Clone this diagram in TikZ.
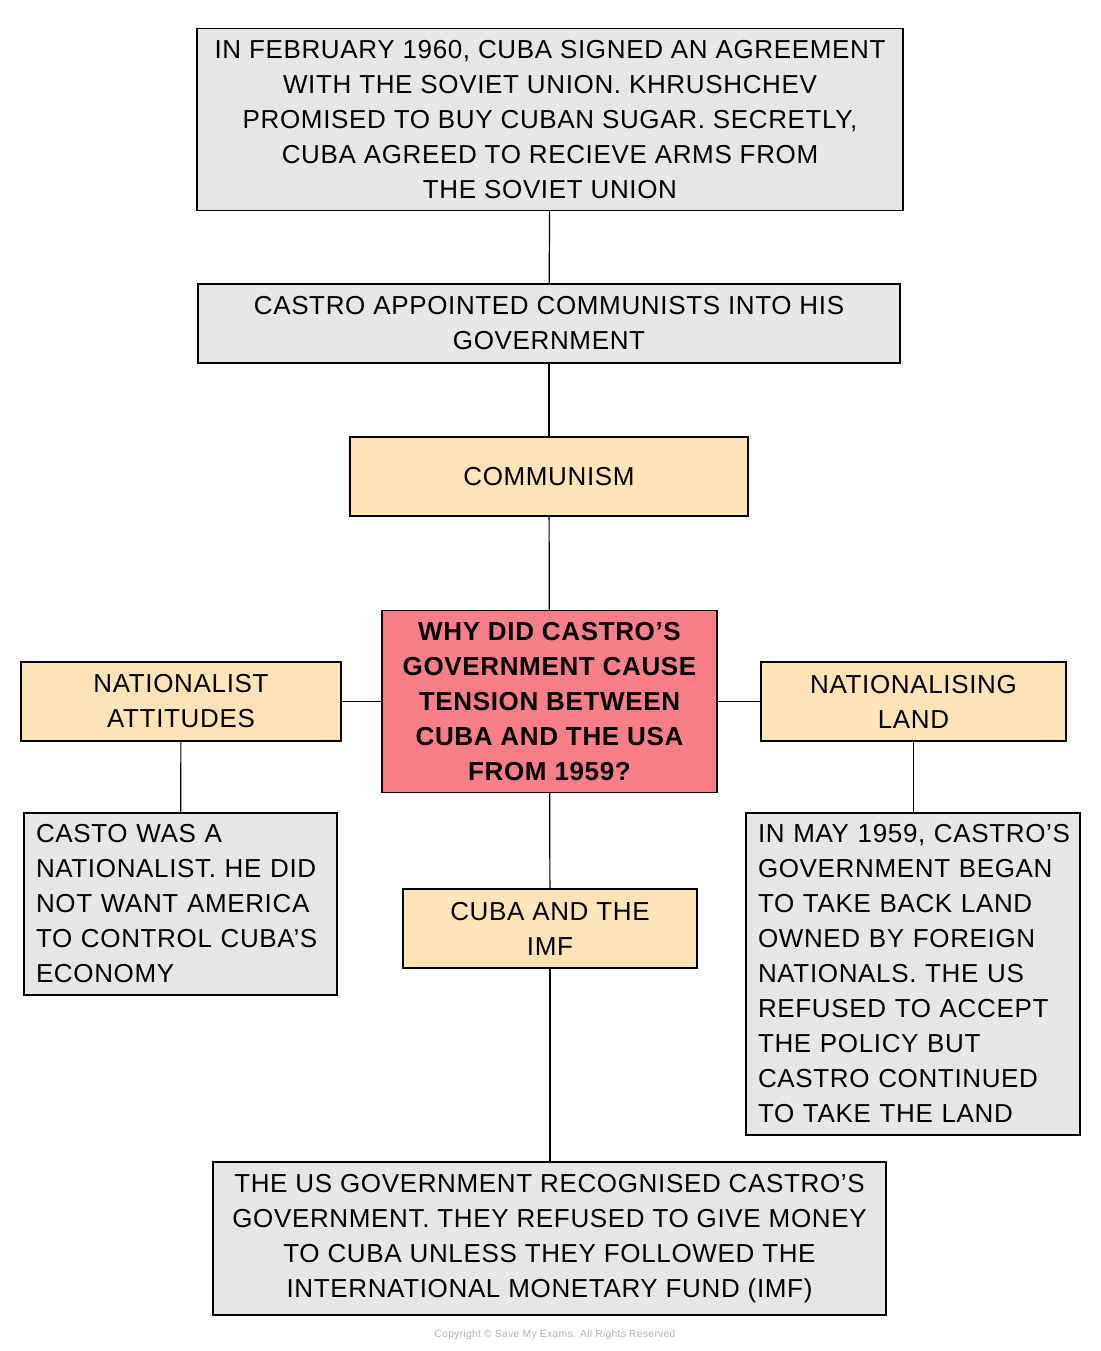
\documentclass[tikz,border=0pt]{standalone}
\usepackage{fontspec}
\setmainfont[LetterSpace=2.5]{Liberation Sans}
\definecolor{boxgrey}{HTML}{E6E6E6}
\definecolor{boxorange}{HTML}{FEE4B6}
\definecolor{boxpink}{HTML}{F87E8A}
\tikzset{
  base/.style={draw=black, line width=0.75pt, inner sep=6pt, outer sep=0pt,
    font=\fontsize{13}{17.5}\selectfont},
  greybox/.style={base, fill=boxgrey, align=center},
  orangebox/.style={base, fill=boxorange, align=center},
  keybox/.style={base, fill=boxpink, align=center,
    font=\fontsize{13}{17.5}\selectfont\bfseries},
  link/.style={line width=0.6pt}
}
\begin{document}
\begin{tikzpicture}[x=0.5pt,y=-0.5pt]
  \useasboundingbox (0,0) rectangle (1100,1351);

  % Soviet agreement
  \node[greybox, minimum width=353pt, minimum height=90.5pt] (soviet) at (550,119.5)
    {IN FEBRUARY 1960, CUBA SIGNED AN AGREEMENT\\
     WITH THE SOVIET UNION. KHRUSHCHEV\\
     PROMISED TO BUY CUBAN SUGAR. SECRETLY,\\
     CUBA AGREED TO RECIEVE ARMS FROM\\
     THE SOVIET UNION};

  % Communists in government
  \node[greybox, minimum width=351pt, minimum height=39.5pt] (appoint) at (549,323.5)
    {CASTRO APPOINTED COMMUNISTS INTO HIS\\ GOVERNMENT};

  % Communism
  \node[orangebox, minimum width=199pt, minimum height=39.5pt] (communism) at (549,476.5)
    {COMMUNISM};

  % Key question
  \node[keybox, minimum width=167.5pt, minimum height=90.5pt] (question) at (549.5,701.5)
    {WHY DID CASTRO'S\\ GOVERNMENT CAUSE\\ TENSION BETWEEN\\ CUBA AND THE USA\\ FROM 1959?};

  % Left branch
  \node[orangebox, minimum width=160pt, minimum height=39.5pt] (nationalist) at (181,701.5)
    {NATIONALIST\\ ATTITUDES};
  \node[base, fill=boxgrey, align=left, text width=144.5pt, minimum height=91pt] (casto) at (180.5,904)
    {CASTO WAS A\\ \mbox{NATIONALIST. HE DID}\\ NOT WANT AMERICA\\ \mbox{TO CONTROL CUBA'S}\\ ECONOMY};

  % Right branch
  \node[orangebox, minimum width=152.5pt, minimum height=39.5pt] (landnode) at (913.5,701.5)
    {NATIONALISING\\ LAND};
  \node[base, fill=boxgrey, align=left, text width=155pt, minimum height=160pt] (maynode) at (913,974)
    {\mbox{IN MAY 1959, CASTRO'S}\\ GOVERNMENT BEGAN\\ TO TAKE BACK LAND\\ OWNED BY FOREIGN\\
     NATIONALS. THE US\\ REFUSED TO ACCEPT\\ THE POLICY BUT\\ CASTRO CONTINUED\\ TO TAKE THE LAND};

  % IMF branch
  \node[orangebox, minimum width=147pt, minimum height=39.5pt] (imf) at (550,928.5)
    {CUBA AND THE\\ IMF};
  \node[greybox, minimum width=336.5pt, minimum height=74.5pt] (usgov) at (549.5,1238.5)
    {THE US GOVERNMENT RECOGNISED CASTRO'S\\
     GOVERNMENT. THEY REFUSED TO GIVE MONEY\\
     TO CUBA UNLESS THEY FOLLOWED THE\\
     INTERNATIONAL MONETARY FUND (IMF)};

  % Connections
  \draw[link] (soviet) -- (appoint);
  \draw[link] (appoint) -- (communism);
  \draw[link] (communism) -- (question);
  \draw[link] (question) -- (nationalist);
  \draw[link] (question) -- (landnode);
  \draw[link] (nationalist) -- (casto);
  \draw[link] (landnode.south) -- (maynode.north -| landnode.south);
  \draw[link] (question) -- (imf);
  \draw[link] (imf) -- (usgov.north -| imf.south);

  % Copyright
  \node[text=black!30, font=\fontsize{5.2}{6}\selectfont] (copy) at (555,1335)
    {Copyright \textcopyright\ Save My Exams. All Rights Reserved};
\end{tikzpicture}
\end{document}
